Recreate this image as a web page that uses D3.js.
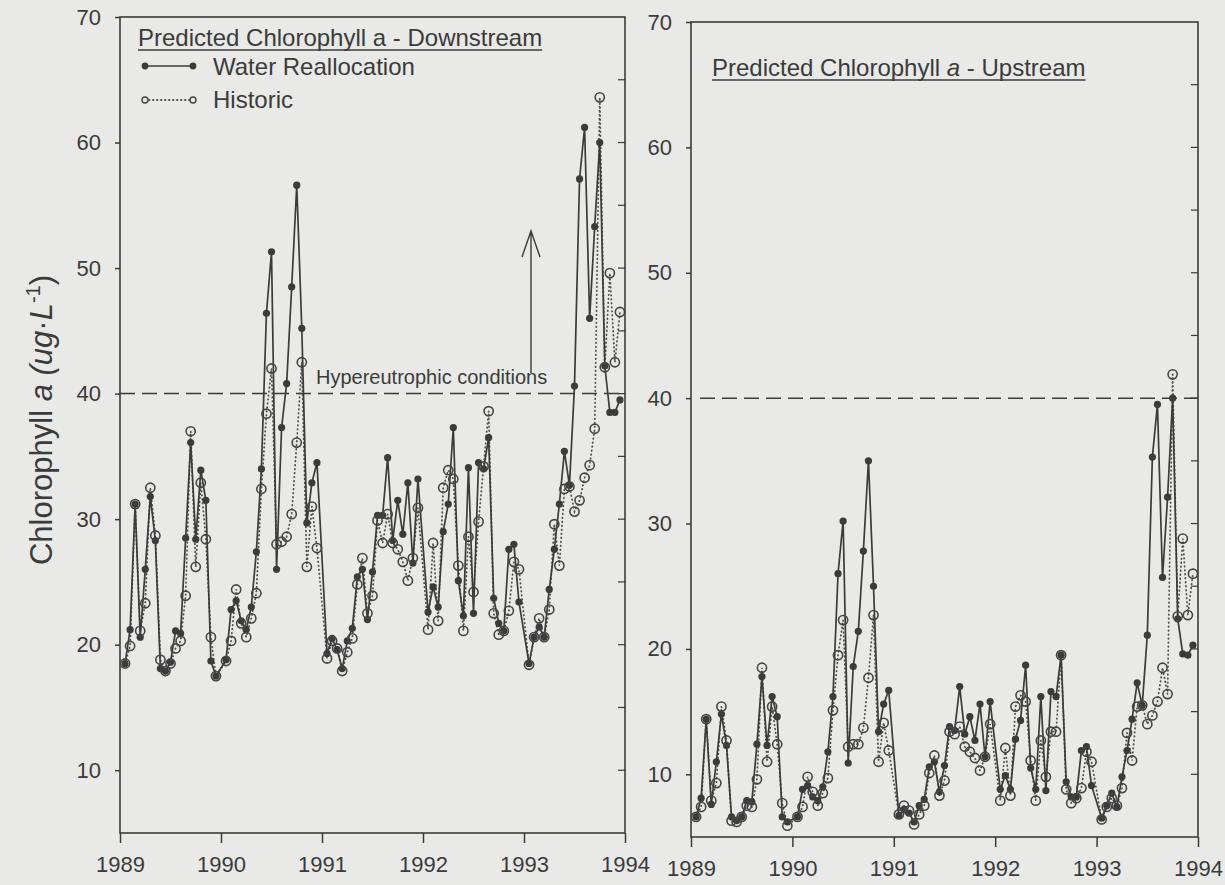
<!DOCTYPE html>
<html>
<head>
<meta charset="utf-8">
<script src="https://cdn.jsdelivr.net/npm/d3@7"></script>
<style>
  body { margin: 0; background: #e9e9e7; }
</style>
</head>
<body>
<div id="chart"></div>
<script>
const years = [1989, 1990, 1991, 1992, 1993, 1994]
const yTicks = [10, 20, 30, 40, 50, 60, 70]
const minorTicks = [10, 15, 20, 25, 30, 35, 40, 45, 50, 55, 60, 65]
const hyperLevel = 40

// 19 predictions per year, 1989-1993
const downWR = [
  18.5, 21.2, 31.2, 20.6, 26.0, 31.8, 28.3, 18.1, 17.9, 18.6, 21.1, 20.9, 28.5, 36.1, 28.4, 33.9, 31.5, 18.7, 17.5,
  18.8, 22.8, 23.5, 21.9, 21.2, 23.0, 27.4, 34.0, 46.4, 51.3, 26.0, 37.3, 40.8, 48.5, 56.6, 45.2, 29.7, 32.9, 34.5,
  19.3, 20.5, 19.6, 18.1, 20.3, 21.3, 25.4, 26.0, 22.0, 25.8, 30.3, 30.3, 34.9, 28.3, 31.5, 28.8, 32.9, 26.5, 33.2,
  22.6, 24.6, 23.0, 29.0, 31.2, 37.3, 25.1, 22.3, 34.1, 22.5, 34.5, 34.0, 36.5, 23.7, 21.7, 21.1, 27.6, 28.0, 23.4,
  18.5, 20.6, 21.4, 20.6, 24.4, 27.6, 31.2, 35.4, 32.7, 40.6, 57.1, 61.2, 46.0, 53.3, 60.0, 42.2, 38.5, 38.5, 39.5,
]
const downHist = [
  18.5, 19.9, 31.2, 21.1, 23.3, 32.5, 28.7, 18.8, 17.9, 18.5, 19.7, 20.3, 23.9, 37.0, 26.2, 32.9, 28.4, 20.6, 17.5,
  18.7, 20.3, 24.4, 21.7, 20.6, 22.1, 24.1, 32.4, 38.4, 42.0, 28.0, 28.2, 28.6, 30.4, 36.1, 42.5, 26.2, 31.0, 27.7,
  18.9, 20.3, 19.7, 17.9, 19.4, 20.5, 24.8, 26.9, 22.5, 23.9, 29.9, 28.1, 30.4, 28.1, 27.6, 26.6, 25.1, 26.9, 30.9,
  21.2, 28.1, 21.9, 32.5, 33.9, 33.2, 26.3, 21.1, 28.6, 24.2, 29.8, 34.2, 38.6, 22.5, 20.8, 21.1, 22.7, 26.6, 26.0,
  18.4, 20.6, 22.1, 20.6, 22.8, 29.6, 26.3, 32.4, 32.6, 30.6, 31.5, 33.3, 34.3, 37.2, 63.6, 42.1, 49.6, 42.5, 46.5,
]
const upWR = [
  6.6, 8.1, 14.4, 7.6, 11.0, 14.8, 12.3, 6.6, 6.3, 6.6, 7.9, 7.8, 12.4, 17.8, 12.3, 16.2, 14.6, 6.6, 6.2,
  6.6, 8.8, 9.1, 8.2, 7.9, 9.0, 11.8, 16.2, 26.0, 30.2, 10.9, 18.6, 21.4, 27.8, 35.0, 25.0, 13.4, 15.6, 16.7,
  6.7, 7.2, 6.9, 6.2, 7.5, 8.0, 10.6, 11.0, 8.6, 10.7, 13.8, 13.5, 17.0, 13.2, 14.6, 12.7, 15.6, 11.4, 15.8,
  8.8, 9.9, 8.8, 12.8, 14.3, 18.7, 10.5, 8.8, 16.2, 8.7, 16.6, 16.2, 19.5, 9.4, 8.2, 8.2, 11.9, 12.2, 9.1,
  6.5, 7.5, 8.5, 7.4, 9.8, 11.9, 14.4, 17.3, 15.5, 21.1, 35.3, 39.5, 25.7, 32.1, 40.0, 22.4, 19.6, 19.5, 20.3,
]
const upHist = [
  6.6, 7.4, 14.4, 7.9, 9.3, 15.4, 12.7, 6.3, 6.2, 6.6, 7.5, 7.4, 9.6, 18.5, 11.0, 15.4, 12.4, 7.7, 5.9,
  6.6, 7.4, 9.8, 8.6, 7.5, 8.5, 9.7, 15.1, 19.5, 22.3, 12.2, 12.4, 12.4, 13.7, 17.7, 22.7, 11.0, 14.1, 11.9,
  6.8, 7.5, 7.1, 6.0, 6.8, 7.5, 10.1, 11.5, 8.3, 9.5, 13.4, 13.2, 13.8, 12.2, 11.8, 11.3, 10.3, 11.4, 14.0,
  7.9, 12.1, 8.3, 15.4, 16.3, 15.8, 11.1, 7.9, 12.7, 9.8, 13.4, 13.4, 19.5, 8.8, 7.7, 8.1, 8.9, 11.8, 11.0,
  6.4, 7.4, 8.1, 7.5, 8.9, 13.3, 11.1, 15.4, 15.5, 14.0, 14.7, 15.8, 18.5, 16.4, 41.9, 22.6, 28.8, 22.7, 26.0,
]

const PER_YEAR = 19
const dates = downWR.map((d, i) => 1989 + Math.floor(i / PER_YEAR) + ((i % PER_YEAR) + 1) / 20)

const INK = '#3b3b3b'
const FONT = '"Liberation Sans", Arial, Helvetica, sans-serif'

const svg = d3.select('#chart').append('svg').attr('width', 1225).attr('height', 885)

svg.append('rect').attr('width', 1225).attr('height', 885).attr('fill', '#e9e9e7')

const drawPanel = (box, wr, hist) => {
  const x = d3.scaleLinear().domain([1989, 1994]).range([box.left, box.right])
  const y = d3.scaleLinear().domain([5, 70]).range([box.bottom, box.top])
  const g = svg.append('g')

  // x axis
  const xAxis = g
    .append('g')
    .attr('transform', `translate(0,${box.bottom})`)
    .call(d3.axisBottom(x).tickValues(years).tickFormat(d3.format('d')).tickSize(10).tickPadding(13))
  xAxis.select('.domain').remove()

  // y axis
  const yAxis = g
    .append('g')
    .attr('transform', `translate(${box.left},0)`)
    .call(d3.axisLeft(y).tickValues(yTicks).tickSize(5).tickPadding(14))
  yAxis.select('.domain').remove()

  g.selectAll('.tick line').attr('stroke', INK).attr('stroke-width', 1.5)
  g.selectAll('.tick text')
    .attr('fill', INK)
    .attr('font-family', FONT)
    .attr('font-size', 22)

  // inside ticks on the right border
  g.append('g')
    .selectAll('line')
    .data(minorTicks)
    .join('line')
    .attr('x1', box.right)
    .attr('x2', box.right - 7)
    .attr('y1', (d) => y(d))
    .attr('y2', (d) => y(d))
    .attr('stroke', INK)
    .attr('stroke-width', 1.2)

  g.append('rect')
    .attr('x', box.left)
    .attr('y', box.top)
    .attr('width', box.right - box.left)
    .attr('height', box.bottom - box.top)
    .attr('fill', 'none')
    .attr('stroke', INK)
    .attr('stroke-width', 1.6)

  // hypereutrophic threshold
  g.append('line')
    .attr('x1', box.dashStart)
    .attr('x2', box.right)
    .attr('y1', y(hyperLevel))
    .attr('y2', y(hyperLevel))
    .attr('stroke', INK)
    .attr('stroke-width', 1.5)
    .attr('stroke-dasharray', '15 7')

  const line = d3
    .line()
    .x((d, i) => x(dates[i]))
    .y((d) => y(d))

  g.append('path')
    .attr('d', line(hist))
    .attr('fill', 'none')
    .attr('stroke', '#505050')
    .attr('stroke-width', 1.8)
    .attr('stroke-linecap', 'round')
    .attr('stroke-dasharray', '0.5 3.5')

  g.append('path')
    .attr('d', line(wr))
    .attr('fill', 'none')
    .attr('stroke', INK)
    .attr('stroke-width', 1.7)

  g.append('g')
    .selectAll('circle')
    .data(wr)
    .join('circle')
    .attr('cx', (d, i) => x(dates[i]))
    .attr('cy', (d) => y(d))
    .attr('r', 3.6)
    .attr('fill', INK)

  g.append('g')
    .selectAll('circle')
    .data(hist)
    .join('circle')
    .attr('cx', (d, i) => x(dates[i]))
    .attr('cy', (d) => y(d))
    .attr('r', 4.6)
    .attr('fill', 'none')
    .attr('stroke', '#454545')
    .attr('stroke-width', 1.6)

  return { g, x, y }
}

const writeTitle = (g, tx, ty, parts) => {
  const t = g
    .append('text')
    .attr('x', tx)
    .attr('y', ty)
    .attr('fill', INK)
    .attr('font-family', FONT)
    .attr('font-size', 24)
  parts.forEach((p) => t.append('tspan').attr('font-style', p.italic ? 'italic' : null).text(p.text))
  const w = t.node().getComputedTextLength()
  g.append('line')
    .attr('x1', tx)
    .attr('x2', tx + w)
    .attr('y1', ty + 4)
    .attr('y2', ty + 4)
    .attr('stroke', INK)
    .attr('stroke-width', 1.6)
}

const left = drawPanel({ left: 120, right: 625, top: 17, bottom: 833, dashStart: 120 }, downWR, downHist)
const right = drawPanel({ left: 691, right: 1198, top: 22, bottom: 837, dashStart: 700 }, upWR, upHist)

writeTitle(left.g, 138, 46, [{ text: 'Predicted Chlorophyll a - Downstream' }])
writeTitle(right.g, 712, 76, [{ text: 'Predicted Chlorophyll ' }, { text: 'a', italic: true }, { text: ' - Upstream' }])

// legend
const legend = left.g.append('g')
legend.append('line').attr('x1', 145).attr('x2', 193).attr('y1', 66).attr('y2', 66).attr('stroke', INK).attr('stroke-width', 1.6)
legend.selectAll('.wr').data([145, 193]).join('circle').attr('cx', (d) => d).attr('cy', 66).attr('r', 3.4).attr('fill', INK)
legend.append('line')
  .attr('x1', 145).attr('x2', 193).attr('y1', 100).attr('y2', 100)
  .attr('stroke', '#505050').attr('stroke-width', 1.8).attr('stroke-linecap', 'round').attr('stroke-dasharray', '0.5 3.5')
legend.selectAll('.hi').data([145, 193]).join('circle').attr('cx', (d) => d).attr('cy', 100).attr('r', 3)
  .attr('fill', '#e9e9e7').attr('stroke', '#454545').attr('stroke-width', 1.4)
legend.selectAll('text')
  .data([{ label: 'Water Reallocation', y: 75 }, { label: 'Historic', y: 108 }])
  .join('text')
  .attr('x', 213)
  .attr('y', (d) => d.y)
  .attr('fill', INK)
  .attr('font-family', FONT)
  .attr('font-size', 24)
  .text((d) => d.label)

// hypereutrophic note and arrow
left.g.append('text')
  .attr('x', 316)
  .attr('y', 384)
  .attr('fill', INK)
  .attr('font-family', FONT)
  .attr('font-size', 20)
  .text('Hypereutrophic conditions')

const ax = 531
left.g.append('path')
  .attr('d', `M${ax},373 L${ax},231 M${ax - 9},257 L${ax},231 L${ax + 9},257`)
  .attr('fill', 'none')
  .attr('stroke', INK)
  .attr('stroke-width', 1.4)

// y axis title
const yTitle = svg.append('text')
  .attr('transform', 'translate(52,420) rotate(-90)')
  .attr('text-anchor', 'middle')
  .attr('fill', INK)
  .attr('font-family', FONT)
  .attr('font-size', 31)
yTitle.append('tspan').text('Chlorophyll ')
yTitle.append('tspan').attr('font-style', 'italic').text('a (ug')
yTitle.append('tspan').text('·')
yTitle.append('tspan').attr('font-style', 'italic').text('L')
yTitle.append('tspan').attr('font-size', 20).attr('dy', -12).text('-1')
yTitle.append('tspan').attr('dy', 12).text(')')
</script>
</body>
</html>
